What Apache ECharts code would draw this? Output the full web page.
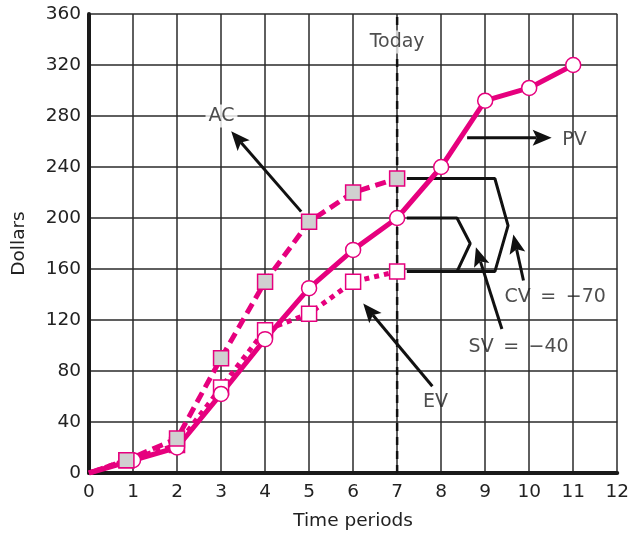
<!DOCTYPE html>
<html>
<head>
<meta charset="utf-8">
<script src="https://cdn.jsdelivr.net/npm/echarts@6/dist/echarts.min.js"></script>
<style>
  html, body { margin: 0; padding: 0; background: #fff; }
  #chart { width: 632px; height: 537px; }
</style>
</head>
<body>
<div id="chart"></div>
<script>
// ---- Data ----
const pvX = [0, 1, 2, 3, 4, 5, 6, 7, 8, 9, 10, 11];
const pvY = [0, 10, 20, 62, 105, 145, 175, 200, 240, 292, 302, 320];
const acX = [0, 0.85, 2, 3, 4, 5, 6, 7];
const acY = [0, 10, 27, 90, 150, 197, 220, 231];
const evX = [0, 0.85, 2, 3, 4, 5, 6, 7];
const evY = [0, 10, 22, 67, 112, 125, 150, 158];
const todayX = 7;
const xTicks = [0, 12, 1];     // min, max, interval
const yTicks = [0, 360, 40];

// ---- Annotation geometry (data coordinates) ----
const cvBracket = [[7.22, 231], [9.22, 231], [9.52, 194], [9.22, 158], [7.22, 158]];
const svBracket = [[7.22, 200], [8.36, 200], [8.66, 180], [8.36, 158]];
// [tailX, tailY, tipX, tipY]
const arrowAC = [4.82, 205, 3.23, 268];
const arrowPV = [8.59, 263, 10.51, 263];
const arrowEV = [7.80, 68, 6.23, 133];
const arrowCV = [9.87, 151, 9.64, 187];
const arrowSV = [9.38, 113, 8.79, 177];
const labelNames = ['AC', 'PV', 'EV', 'CV\u2002=\u2002\u221270', 'SV\u2002=\u2002\u221240', 'Today'];
const labelPos = [[3.01, 280], [11.03, 261], [7.87, 56], [10.59, 138], [9.76, 99], [7, 338]];
const labelBg = [true, false, false, false, false, true];

const MAG = '#e6007e';
const FONT = '"DejaVu Sans", "Liberation Sans", Arial, sans-serif';
const TXT = '#222';

// first point (origin) is drawn without a marker
const pts = (xs, ys) => xs.map((x, i) => i === 0 ? { value: [x, ys[i]], symbol: 'none' } : [x, ys[i]]);

function renderArrow(params, api) {
  const p1 = api.coord([api.value(0), api.value(1)]);
  const p2 = api.coord([api.value(2), api.value(3)]);
  const dx = p2[0] - p1[0], dy = p2[1] - p1[1];
  const len = Math.sqrt(dx * dx + dy * dy) || 1;
  const ux = dx / len, uy = dy / len;
  const nx = -uy, ny = ux;
  const headLen = 19, headW = 8, notch = 4;
  const bx = p2[0] - ux * headLen, by = p2[1] - uy * headLen;
  const mx = p2[0] - ux * (headLen - notch), my = p2[1] - uy * (headLen - notch);
  return {
    type: 'group',
    children: [
      { type: 'line', shape: { x1: p1[0], y1: p1[1], x2: mx, y2: my },
        style: { stroke: '#111', lineWidth: 3 } },
      { type: 'polygon',
        shape: { points: [[p2[0], p2[1]], [bx + nx * headW, by + ny * headW], [mx, my], [bx - nx * headW, by - ny * headW]] },
        style: { fill: '#111' } }
    ]
  };
}

const chart = echarts.init(document.getElementById('chart'), null, { renderer: 'canvas' });

const option = {
  animation: false,
  backgroundColor: '#fff',
  grid: { left: 89, right: 13, top: 14, bottom: 64 },
  xAxis: {
    type: 'value', min: xTicks[0], max: xTicks[1], interval: xTicks[2],
    name: 'Time periods', nameLocation: 'middle', nameGap: 39,
    nameTextStyle: { fontFamily: FONT, fontSize: 18.5, color: TXT },
    axisLine: { show: true, onZero: false, lineStyle: { color: '#1a1a1a', width: 4 } },
    axisTick: { show: false },
    axisLabel: { fontFamily: FONT, fontSize: 18.5, color: TXT, margin: 10 },
    splitLine: { show: true, lineStyle: { color: '#2a2a2a', width: 1.5 } }
  },
  yAxis: {
    type: 'value', min: yTicks[0], max: yTicks[1], interval: yTicks[2],
    name: 'Dollars', nameLocation: 'middle', nameGap: 60,
    nameTextStyle: { fontFamily: FONT, fontSize: 18.5, color: TXT },
    axisLine: { show: true, onZero: false, lineStyle: { color: '#1a1a1a', width: 4 } },
    axisTick: { show: false },
    axisLabel: { fontFamily: FONT, fontSize: 18.5, color: TXT, margin: 8 },
    splitLine: { show: true, lineStyle: { color: '#2a2a2a', width: 1.5 } }
  },
  series: [
    {
      name: 'today', type: 'line', silent: true,
      data: [[todayX, yTicks[0]], [todayX, yTicks[1]]],
      symbol: 'none',
      lineStyle: { color: '#111', width: 2.5, type: [8, 6] }
    },
    {
      name: 'cvBracket', type: 'line', silent: true, data: cvBracket, symbol: 'none',
      lineStyle: { color: '#111', width: 3 }
    },
    {
      name: 'svBracket', type: 'line', silent: true, data: svBracket, symbol: 'none',
      lineStyle: { color: '#111', width: 3 }
    },
    {
      name: 'EV', type: 'line', data: pts(evX, evY),
      symbol: 'rect', symbolSize: 15,
      itemStyle: { color: '#fff', borderColor: MAG, borderWidth: 1.5 },
      lineStyle: { color: MAG, width: 5, type: [5, 5] }
    },
    {
      name: 'PV', type: 'line', data: pts(pvX, pvY),
      symbol: 'circle', symbolSize: 15,
      itemStyle: { color: '#fff', borderColor: MAG, borderWidth: 1.5 },
      lineStyle: { color: MAG, width: 5 }
    },
    {
      name: 'AC', type: 'line', data: pts(acX, acY),
      symbol: 'rect', symbolSize: 15,
      itemStyle: { color: '#d0d0d0', borderColor: MAG, borderWidth: 1.5 },
      lineStyle: { color: MAG, width: 5, type: [11, 6] }
    },
    {
      name: 'arrows', type: 'custom', silent: true,
      renderItem: renderArrow,
      encode: { x: [0, 2], y: [1, 3] },
      data: [arrowAC, arrowPV, arrowEV, arrowCV, arrowSV],
      z: 5
    },
    {
      name: 'labels', type: 'scatter', silent: true, symbolSize: 1,
      itemStyle: { color: 'rgba(0,0,0,0)' },
      data: labelNames.map((n, i) => ({
        name: n, value: labelPos[i],
        label: {
          show: true, position: 'inside', formatter: '{b}',
          fontFamily: FONT, fontSize: 19, color: TXT,
          backgroundColor: labelBg[i] ? '#fff' : 'transparent',
          padding: labelBg[i] ? [2, 3] : 0
        }
      })),
      z: 10
    }
  ]
};
chart.setOption(option);
</script>
</body>
</html>
